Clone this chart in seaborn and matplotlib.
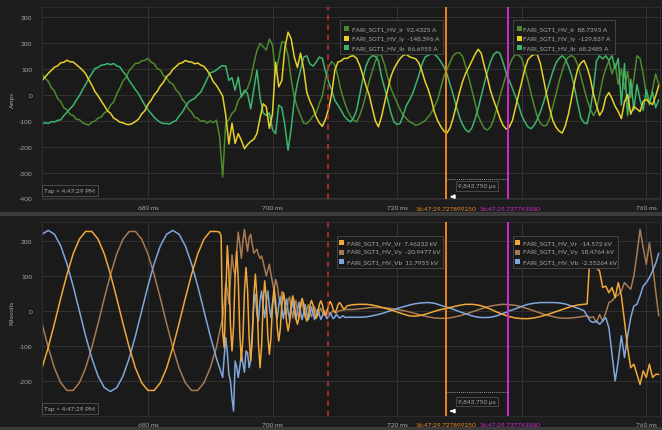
import numpy as np
import pandas as pd
import matplotlib
matplotlib.use("Agg")
import matplotlib.pyplot as plt
from matplotlib.patches import Rectangle
import seaborn as sns

# ---------------- recorded samples ----------------
# Phase currents (A), one sample every 0.5 ms starting at 663.0 ms
CURRENT_T0_MS = 663.0
CURRENT_STEP_MS = 0.5

ir_amps = [
    80, 63, 52, 27, 14, -14, -27, -50, -58, -76,
    -80, -95, -96, -108, -113, -117, -106, -102, -90, -86,
    -70, -64, -40, -28, 3, 26, 53, 67, 93, 107,
    121, 121, 131, 132, 140, 126, 119, 101, 95, 73,
    65, 47, 41, 19, 7, -17, -31, -55, -67, -87,
    -91, -103, -100, -109, -101, -108, -98, -160, -317, -108,
    -96, -72, -60, -22, -5, 8, 25, 60, 120, 170,
    198, 185, 172, 215, 190, 80, 140, 205, 200, 150,
    60, -10, -50, -80, -110, -112, -99, -82, -70, -35,
    -5, 60, 108, 128, 115, 70, 15, -25, -58, -82,
    -98, -105, -80, -45, 0, 50, 90, 128, 158, 150,
    115, 65, 25, -5, -32, -58, -80, -92, -104, -110,
    -118, -114, -108, -100, -85, -70, -45, -20, 25, 70,
    96, 125, 151, 160, 162, 148, 110, 66, 18, -30,
    -80, -108, -130, -136, -124, -95, -54, -5, 35, 75,
    112, 140, 155, 152, 140, 100, 55, 5, -42, -85,
    -110, -120, -118, -90, -45, 0, 50, 92, 128, 145,
    151, 142, 115, 70, 25, -20, -54, -80, -60, 0,
    60, 100, 130, 80, 120, 40, 100, 20, 90, -10,
    60, 150, 140, 80, 0, -40, 20, 80, 40,
]

iy_amps = [
    55, 68, 82, 94, 106, 111, 123, 125, 133, 127,
    126, 116, 106, 95, 81, 58, 37, 12, -4, -24,
    -42, -62, -72, -90, -97, -106, -108, -114, -115, -111,
    -103, -94, -74, -62, -38, -22, -1, 13, 34, 48,
    70, 80, 98, 108, 120, 123, 132, 127, 126, 119,
    122, 114, 109, 94, 76, 50, 36, 16, -5, -80,
    -190, -110, -188, -150, -176, -208, -192, -180, -172, -150,
    -90, -35, -47, -130, -73, 125, 30, 55, 183, 241,
    215, 145, 105, 160, 100, 10, -25, -50, -85, -108,
    -122, -95, -55, 4, 94, 126, 130, 140, 140, 148,
    150, 140, 113, 75, 35, 0, -50, -100, -124, -85,
    -30, 20, 70, 100, 122, 140, 152, 155, 146, 142,
    138, 122, 90, 50, 20, -20, -68, -100, -122, -140,
    -148, -128, -90, -41, 8, 50, 82, 105, 130, 155,
    175, 160, 110, 65, 15, -22, -54, -90, -118, -132,
    -125, -100, -50, 0, 49, 98, 135, 148, 155, 155,
    120, 60, 0, -54, -100, -125, -140, -148, -120, -75,
    -15, 50, 100, 122, 132, 105, 65, 5, -41, -80,
    -60, -10, 8, -15, -45, -65, -92, -28, 0, -75,
    -45, -55, -65, -25, -18, -30, -38, -5, 36,
]

ib_amps = [
    -112, -108, -111, -104, -105, -99, -97, -81, -68, -54,
    -42, -21, -4, 19, 39, 63, 81, 101, 105, 114,
    115, 120, 116, 120, 111, 107, 89, 75, 54, 37,
    19, 4, -19, -40, -58, -72, -87, -98, -107, -111,
    -111, -113, -105, -100, -82, -68, -47, -29, -20, -15,
    0, 10, 35, 60, 85, 88, 95, 106, 112, 110,
    55, 66, 17, 68, -9, 17, 4, -55, 20, 95,
    -10, -70, -80, -70, -135, -150, -40, -50, -120, -214,
    -130, -20, 45, 95, 145, 150, 119, 110, 125, 145,
    140, 90, 50, 17, -22, -40, -60, -82, -95, -105,
    -90, -60, 0, 60, 110, 138, 150, 148, 130, 70,
    25, -20, -70, -105, -115, -110, -78, -41, -20, 5,
    40, 75, 118, 145, 152, 158, 155, 145, 128, 108,
    80, 40, 0, -45, -85, -115, -135, -144, -128, -95,
    -54, -5, 42, 90, 128, 155, 165, 160, 125, 85,
    55, 25, -8, -40, -80, -105, -124, -131, -118, -95,
    -66, -30, 10, 50, 90, 122, 140, 150, 138, 110,
    74, 25, -35, -90, -108, -112, -60, 20, 130, 150,
    138, 150, 132, 150, 100, 140, -40, 120, -80, 60,
    -60, 40, -20, -60, 20, -30, 10, -50, -20,
]

# Phase voltages (kV): blocks of (start ms, step ms, sample count)
VOLTAGE_BLOCKS = [(663.0, 1.0, 29), (691.5, 0.25, 83), (713.0, 1.0, 38), (750.5, 0.5, 24)]

vr_kv = [
    # 663 .. 691 ms
    -163, -104, -36, 36, 104, 163, 205, 227, 227, 205,
    163, 104, 36, -36, -104, -163, -205, -227, -227, -205,
    -163, -104, -36, 36, 104, 163, 205, 227, 227,
    # 691.5 .. 712 ms
    225, 215, -60, -105, 40, 186, 111, -39, -114, -43,
    100, 171, 92, -64, -143, -76, 57, 124, 57, -76,
    -143, -81, 43, 105, 39, -95, -162, -100, 24, 86,
    33, -72, -124, -76, 19, 67, 29, -47, -86, -51,
    18, 52, 25, -30, -57, -32, 18, 43, 23, -18,
    -38, -20, 18, 36, 20, -13, -29, -14, 15, 30,
    17, -8, -21, -9, 17, 29, 18, -3, -14, -4,
    17, 27, 19, 3, -5, 2, 17, 24, 19, 10,
    5, 10, 15,
    # 713 .. 750 ms
    18, 19, 19, 17, 13, 8, 3, -3, -9, -14,
    -15, -12, -7, -1, 4, 8, 12, 16, 19, 19,
    17, 12, 5, -3, -10, -16, -20, -22, -22, -20,
    -16, -11, -5, 1, 7, 13, 17, 19,
    # 750.5 .. 762 ms
    20, 171, 133, 124, 114, 67, 71, 52, 67, 38,
    81, 43, -29, -105, -162, -152, -181, -210, -171, -190,
    -152, -190, -181, -181,
]

vy_kv = [
    -36, -104, -163, -205, -227, -227, -205, -163, -104, -36,
    36, 104, 163, 205, 227, 227, 205, 163, 104, 36,
    -36, -104, -163, -205, -227, -227, -205, -163, -104,
    -60, -40, -20, 20, 80, 60, 20, 90, 160, 120,
    100, 170, 225, 190, 150, 200, 233, 200, 170, 210,
    219, 190, 165, 171, 176, 160, 150, 157, 140, 120,
    100, 118, 133, 105, 80, 60, 90, 75, 40, 20,
    55, 50, 15, -10, 30, 40, 5, -20, 15, 30,
    0, -20, 8, 25, 0, -18, 3, 18, -2, -16,
    0, 12, -3, -14, -2, 8, -4, -12, -4, 4,
    -5, -10, -4, 2, -4, -6, -2, 0, 2, 2,
    3, 4, 4,
    4, 6, 8, 10, 10, 9, 7, 4, 1, -3,
    -8, -13, -17, -20, -21, -21, -18, -14, -9, -3,
    3, 9, 14, 17, 19, 18, 16, 12, 6, 0,
    -6, -12, -16, -20, -21, -20, -18, -15,
    -14, -19, -17, -33, -10, -29, -5, 24, 29, 40,
    46, 57, 81, 71, 62, 100, 162, 233, 181, 133,
    195, 133, 57, -14,
]

vb_kv = [
    219, 230, 219, 186, 135, 71, 0, -71, -135, -186,
    -219, -230, -219, -186, -135, -71, 0, 71, 135, 186,
    219, 230, 219, 186, 135, 71, 0, -71, -135,
    -163, -178, -190, -130, -76, -120, -181, -200, -250, -286,
    -143, -160, -190, -160, -124, -150, -175, -114, -120, -162,
    -140, -60, 20, 48, -10, -29, 30, 57, 10, -19,
    25, 57, 10, -19, 20, 48, 5, -22, 15, 40,
    5, -22, 10, 35, 0, -25, 5, 30, -5, -25,
    0, 25, -5, -25, -5, 18, -8, -25, -10, 12,
    -8, -25, -12, 5, -10, -24, -15, 0, -12, -22,
    -16, -5, -14, -22, -18, -10, -15, -20, -18, -14,
    -16, -19, -18,
    -18, -18, -17, -14, -10, -5, 1, 7, 12, 17,
    21, 23, 24, 22, 16, 11, 5, -2, -8, -14,
    -18, -19, -18, -14, -7, 0, 6, 13, 19, 22,
    24, 24, 24, 23, 20, 14, 8, 1,
    -14, -29, -33, -29, -38, -29, -19, -48, -124, -200,
    -143, -71, -133, -71, -19, 14, 19, 43, 71, 81,
    95, 114, 135, 165,
]

# Event markers and cursor readouts
FAULT_MS = 708.9
CURSOR_A_MS = 727.899250
CURSOR_B_MS = 737.743000
current_at_a = {"Ir": 92.4325, "Iy": -148.396, "Ib": 86.6955}
current_at_b = {"Ir": 88.7393, "Iy": -129.837, "Ib": 68.2485}
voltage_at_a = {"Vr": 7.46232, "Vy": -20.9477, "Vb": 11.7955}
voltage_at_b = {"Vr": -14.572, "Vy": 18.4764, "Vb": -2.55264}

TAG_PREFIX = "FARI_SGT1_HV_"
TRIGGER_TEXT = "Tap = 4:47:29 PM"
X_TICKS_MS = [680, 700, 720, 740, 760]
X_TICK_LABELS = ["680 ms", "700 ms", "720 ms", "", "760 ms"]  # 740 sits under the cursor stamps
AMP_TICKS = [-400, -300, -200, -100, 0, 100, 200, 300]
KV_TICKS = [-200, -100, 0, 100, 200]

# ---------------- styling ----------------
BG = "#1d1d1d"
PLOT_BG = "#1a1a1a"
GRID = "#363636"
TEXT = "#a9a9a9"
current_colors = {"Ir": "#4e8a2c", "Iy": "#e6d22a", "Ib": "#3db56c"}
voltage_colors = {"Vr": "#f0a83a", "Vy": "#a87a52", "Vb": "#7fa7de"}
CURSOR_A_COLOR = "#e8891e"
CURSOR_B_COLOR = "#d12ad1"
FAULT_COLOR = "#d42a2a"

sns.set_theme(style="dark")
plt.rcParams["font.family"] = ["Lato", "DejaVu Sans"]
plt.rcParams["axes.unicode_minus"] = False

W, H = 662, 431


def px_rect(x0, y0, x1, y1):
    return [x0 / W, 1 - y1 / H, (x1 - x0) / W, (y1 - y0) / H]


def fx(x):
    return x / W


def fy(y):
    return 1 - y / H


# ---------------- tidy data ----------------
current_t = CURRENT_T0_MS + CURRENT_STEP_MS * np.arange(len(ir_amps))
voltage_t = np.concatenate([s + d * np.arange(n) for s, d, n in VOLTAGE_BLOCKS])


def long_frame(t, series, at_a, at_b):
    parts = []
    for name, vals in series.items():
        assert len(vals) == len(t), (name, len(vals), len(t))
        tt = np.concatenate([t, [CURSOR_A_MS, CURSOR_B_MS]])
        vv = np.concatenate([np.asarray(vals, float), [at_a[name], at_b[name]]])
        order = np.argsort(tt, kind="stable")
        parts.append(pd.DataFrame({"ms": tt[order], "value": vv[order], "series": name}))
    return pd.concat(parts, ignore_index=True)


df_i = long_frame(current_t, {"Ir": ir_amps, "Ib": ib_amps, "Iy": iy_amps},
                  current_at_a, current_at_b)
df_v = long_frame(voltage_t, {"Vy": vy_kv, "Vb": vb_kv, "Vr": vr_kv},
                  voltage_at_a, voltage_at_b)

# ---------------- figure ----------------
fig = plt.figure(figsize=(6.62, 4.31), dpi=100, facecolor=BG)
ax_i = fig.add_axes(px_rect(42, 8, 660, 200))
ax_v = fig.add_axes(px_rect(42, 223, 660, 417))

sns.lineplot(data=df_i, x="ms", y="value", hue="series", hue_order=["Ir", "Ib", "Iy"],
             palette=current_colors, estimator=None, sort=True, legend=False,
             linewidth=1.1, ax=ax_i)
sns.lineplot(data=df_v, x="ms", y="value", hue="series", hue_order=["Vy", "Vb", "Vr"],
             palette=voltage_colors, estimator=None, sort=True, legend=False,
             linewidth=1.1, ax=ax_v)

ax_i.set_ylim(-402, 338)
ax_v.set_ylim(-300, 254)
ax_i.set_yticks(AMP_TICKS)
ax_v.set_yticks(KV_TICKS)

for ax in (ax_i, ax_v):
    ax.set_facecolor(PLOT_BG)
    ax.set_xlim(663.0, 762.2)
    ax.set_xticks(X_TICKS_MS)
    ax.set_xticklabels(X_TICK_LABELS)
    ax.grid(True, color=GRID, linewidth=0.6)
    ax.tick_params(length=0, labelsize=4.6, colors=TEXT)
    ax.tick_params(axis="x", pad=4)
    ax.tick_params(axis="y", pad=7)
    ax.set_xlabel("")
    ax.set_ylabel("")
    for sp in ax.spines.values():
        sp.set_color("#303030")
        sp.set_linewidth(0.6)
    ax.axvline(FAULT_MS, color=FAULT_COLOR, linestyle=(0, (3.5, 3)), linewidth=1.1, zorder=5)
    ax.axvline(CURSOR_A_MS, color=CURSOR_A_COLOR, linewidth=1.4, zorder=5)
    ax.axvline(CURSOR_B_MS, color=CURSOR_B_COLOR, linewidth=1.4, zorder=5)

# axis titles
fig.text(fx(12), fy(100), "Amps", rotation=90, ha="center", va="center", color=TEXT, fontsize=4.6)
fig.text(fx(12), fy(313), "Kilovolts", rotation=90, ha="center", va="center", color=TEXT, fontsize=4.6)

# separator bands between and below the panels
for y0, y1 in [(213, 217), (428, 431)]:
    fig.patches.append(Rectangle((0, fy(y1)), 1, (y1 - y0) / H, transform=fig.transFigure,
                                 facecolor="#3b3b3b", edgecolor="none", zorder=0))


def readout_box(x0, y0, x1, y1, sq_x, txt_x, rows, colors, values, unit):
    fig.patches.append(Rectangle((fx(x0), fy(y1)), (x1 - x0) / W, (y1 - y0) / H,
                                 transform=fig.transFigure, facecolor="#1b1b1b",
                                 edgecolor="#4a4a4a", linewidth=0.6, zorder=6))
    for (name, val), ry in zip(values.items(), rows):
        fig.patches.append(Rectangle((fx(sq_x), fy(ry + 2.5)), 5 / W, 5 / H,
                                     transform=fig.transFigure, facecolor=colors[name],
                                     edgecolor="none", zorder=7))
        fig.text(fx(txt_x), fy(ry), f"{TAG_PREFIX}{name}  {val:g} {unit}", ha="left",
                 va="center", color=TEXT, fontsize=4.6, zorder=7)


order_i = ["Ir", "Iy", "Ib"]
order_v = ["Vr", "Vy", "Vb"]
readout_box(340, 21, 443, 55, 344, 352, [29.5, 39, 48.5], current_colors,
            {k: current_at_a[k] for k in order_i}, "A")
readout_box(513, 21, 615, 55, 516.5, 523, [29.5, 39, 48.5], current_colors,
            {k: current_at_b[k] for k in order_i}, "A")
readout_box(337, 237, 443, 269, 339, 347, [243.5, 253, 262.5], voltage_colors,
            {k: voltage_at_a[k] for k in order_v}, "kV")
readout_box(513, 237, 618, 269, 515, 523, [243.5, 253, 262.5], voltage_colors,
            {k: voltage_at_b[k] for k in order_v}, "kV")

delta_us = (CURSOR_B_MS - CURSOR_A_MS) * 1000.0
label_a = f"16:47:29.{round(CURSOR_A_MS * 1e6):09d}"
label_b = f"16:47:29.{round(CURSOR_B_MS * 1e6):09d}"

for ax, y_line, y_box, y_arrow, y_lbl, y_tap in [
    (ax_i, -324, -351, -393, -0.052, -370),
    (ax_v, -231, -259, -286, -0.042, -278),
]:
    # span between the two cursors
    ax.plot([CURSOR_A_MS, CURSOR_B_MS], [y_line, y_line], color="#bdbdbd",
            linestyle=(0, (1, 1.5)), linewidth=0.6, zorder=6)
    ax.text((CURSOR_A_MS + CURSOR_B_MS) / 2, y_box, f"{delta_us:,.3f} µs",
            ha="center", va="center", color=TEXT, fontsize=4.6, zorder=7,
            bbox=dict(boxstyle="square,pad=0.35", facecolor=PLOT_BG, edgecolor="#5a5a5a",
                      linewidth=0.5))
    ax.annotate("", xy=(CURSOR_A_MS + 0.15, y_arrow), xytext=(CURSOR_A_MS + 1.3, y_arrow),
                arrowprops=dict(arrowstyle="-|>", color="white", lw=1.3, mutation_scale=5),
                zorder=7)
    # trigger time tag
    ax.text(663.4, y_tap, TRIGGER_TEXT, ha="left", va="center", color=TEXT, fontsize=4.6,
            zorder=7, bbox=dict(boxstyle="square,pad=0.45", facecolor=PLOT_BG,
                                edgecolor="#5e5e5e", linewidth=0.5))
    # cursor timestamps under the time axis
    xt = ax.get_xaxis_transform()
    ax.text(CURSOR_B_MS + 0.3, y_lbl, label_b, transform=xt, ha="center", va="center",
            color=CURSOR_B_COLOR, fontsize=4.6, clip_on=False, zorder=8,
            bbox=dict(boxstyle="square,pad=0.2", facecolor=BG, edgecolor="none"))
    ax.text(CURSOR_A_MS, y_lbl, label_a, transform=xt, ha="center", va="center",
            color=CURSOR_A_COLOR, fontsize=4.6, clip_on=False, zorder=9,
            bbox=dict(boxstyle="square,pad=0.2", facecolor=BG, edgecolor="none"))

fig.savefig("out.png", dpi=100, facecolor=BG)
